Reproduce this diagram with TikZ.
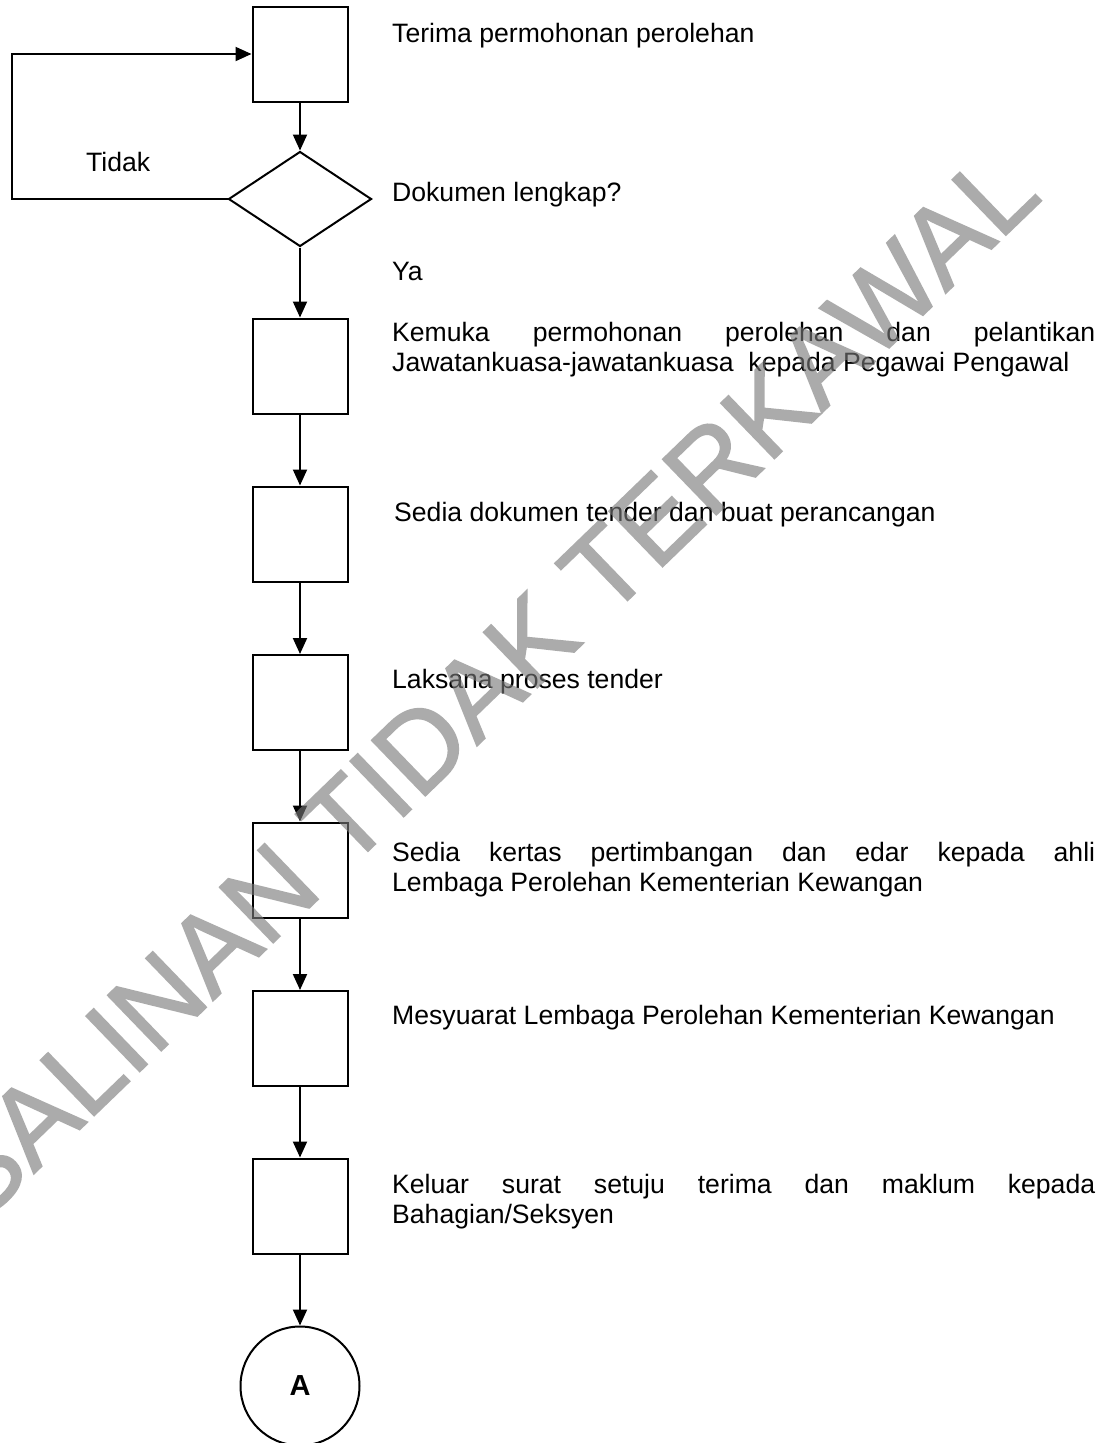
\documentclass[tikz,border=0pt]{standalone}
\usepackage{fontspec}
\setmainfont{Liberation Sans}
\newfontfamily\wmfont[FakeBold=1.5]{Liberation Sans}
\usetikzlibrary{shapes.geometric,arrows.meta}
\definecolor{wmgray}{RGB}{121,121,121}
\begin{document}
\begin{tikzpicture}[x=1pt,y=-1pt,
  box/.style={draw, line width=2pt, minimum width=95pt, minimum height=95pt, inner sep=0pt},
  decision/.style={draw, diamond, line width=2pt, minimum width=143pt, minimum height=95pt, aspect=1.5, inner sep=0pt},
  endpt/.style={draw, circle, line width=2pt, minimum size=119pt, inner sep=0pt, font=\bfseries\fontsize{29}{29}\selectfont},
  arr/.style={line width=2pt, -{Triangle[length=16pt,width=14pt]}},
  txt/.style={anchor=base west, inner sep=0pt, font=\fontsize{26.6}{31}\selectfont},
  para/.style={anchor=base west, inner sep=0pt, font=\fontsize{26.6}{30.5}\selectfont}
]
\useasboundingbox (0,0) rectangle (1109,1443);
\fill[white] (0,0) rectangle (1109,1443);
\hyphenpenalty=10000

% flow nodes
\node[box] (b1) at (300,54) {};
\node[decision] (dia) at (300,199) {};
\node[box] (b2) at (300,366) {};
\node[box] (b3) at (300,534) {};
\node[box] (b4) at (300,702.5) {};
\node[box] (b5) at (300,870) {};
\node[box] (b6) at (300,1038.5) {};
\node[box] (b7) at (300,1206) {};
\node[endpt] (a) at (300,1386) {A};
\coordinate (lc) at (12,199);

% connectors
\draw[arr] (b1.south) -- (dia.north);
\draw[arr] (dia.west) -- (lc) |- (b1.west);
\draw[arr] (dia.south) -- (b2.north);
\draw[arr] (b2.south) -- (b3.north);
\draw[arr] (b3.south) -- (b4.north);
\draw[arr] (b4.south) -- (b5.north);
\draw[arr] (b5.south) -- (b6.north);
\draw[arr] (b6.south) -- (b7.north);
\draw[arr] (b7.south) -- (a.north);

% labels
\node[txt] (tidak) at (86,171) {Tidak};
\node[txt] (t1) at (392,42) {Terima permohonan perolehan};
\node[txt] (td) at (392,201) {Dokumen lengkap?};
\node[txt] (ya) at (392,280) {Ya};
\node[para] (t2) at (392,341) {\parbox[t]{703pt}{Kemuka permohonan perolehan dan pelantikan\linebreak Jawatankuasa-jawatankuasa\ \ kepada Pegawai Pengawal}};
\node[txt] (t3) at (394,521) {Sedia dokumen tender dan buat perancangan};
\node[txt] (t4) at (392,688) {Laksana proses tender};
\node[para] (t5) at (392,861) {\parbox[t]{703pt}{Sedia kertas pertimbangan dan edar kepada ahli\linebreak Lembaga Perolehan Kementerian Kewangan}};
\node[txt] (t6) at (392,1024) {Mesyuarat Lembaga Perolehan Kementerian Kewangan};
\node[para] (t7) at (392,1193) {\parbox[t]{703pt}{Keluar surat setuju terima dan maklum kepada\linebreak Bahagian/Seksyen}};

% watermark
\begin{scope}[transparency group, opacity=0.62]
\node[anchor=base, inner sep=0pt, rotate=44, text=wmgray, font=\wmfont\fontsize{112}{112}\selectfont] (wm) at (512,712) {SALINAN TIDAK TERKAWAL};
\end{scope}
\end{tikzpicture}
\end{document}
